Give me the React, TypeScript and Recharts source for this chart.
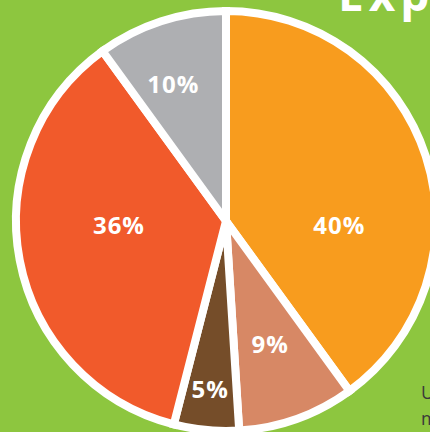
import React from "react";
import { PieChart, Pie, Cell } from "recharts";

const categories = ["40%", "9%", "5%", "36%", "10%"];
const values = [40, 9, 5, 36, 10];
const colors = ["#F89C1E", "#D78865", "#754D29", "#F15A2B", "#AEAFB2"];

const data = categories.map((name, i) => ({ name, value: values[i] }));

const RAD = Math.PI / 180;
// label placement tweaks (angle offset in degrees, radius factor)
const labelTweak: Record<number, { da: number; rf: number }> = {
  0: { da: -20, rf: 0.54 },
  1: { da: 0, rf: 0.62 },
  2: { da: 0, rf: 0.8 },
  3: { da: -9, rf: 0.51 },
  4: { da: 3, rf: 0.7 },
};

const renderLabel = (props: any) => {
  const { cx, cy, midAngle, outerRadius, index } = props;
  const t = labelTweak[index] || { da: 0, rf: 0.6 };
  const a = midAngle + t.da;
  const r = outerRadius * t.rf;
  const x = cx + r * Math.cos(-a * RAD);
  const y = cy + r * Math.sin(-a * RAD);
  return (
    <text
      x={x}
      y={y}
      fill="#ffffff"
      textAnchor="middle"
      dominantBaseline="central"
      style={{ fontFamily: "'Open Sans', sans-serif", fontWeight: 700, fontSize: 24, letterSpacing: 1 }}
    >
      {categories[index]}
    </text>
  );
};

export default function App() {
  return (
    <div
      style={{
        position: "fixed",
        left: 0,
        top: 0,
        width: 430,
        height: 432,
        background: "#8DC63F",
        overflow: "hidden",
      }}
    >
      <PieChart width={430} height={432} margin={{ top: 0, right: 0, bottom: 0, left: 0 }}>
        <text
          x={338}
          y={11}
          fill="#ffffff"
          style={{ fontFamily: "'Open Sans', sans-serif", fontWeight: 700, fontSize: 46, letterSpacing: 5 }}
        >
          Exp
        </text>
        <text x={421} y={399} fill="#3a3a3a" style={{ fontFamily: "'Open Sans', sans-serif", fontSize: 18 }}>
          U
        </text>
        <text x={421} y={425} fill="#3a3a3a" style={{ fontFamily: "'Open Sans', sans-serif", fontSize: 18 }}>
          m
        </text>
        <Pie
          data={data}
          dataKey="value"
          nameKey="name"
          cx={226}
          cy={221}
          outerRadius={210}
          startAngle={90}
          endAngle={-270}
          stroke="#ffffff"
          strokeWidth={8}
          label={renderLabel}
          labelLine={false}
          isAnimationActive={false}
        >
          {data.map((d, i) => (
            <Cell key={d.name} fill={colors[i]} />
          ))}
        </Pie>
      </PieChart>
    </div>
  );
}
